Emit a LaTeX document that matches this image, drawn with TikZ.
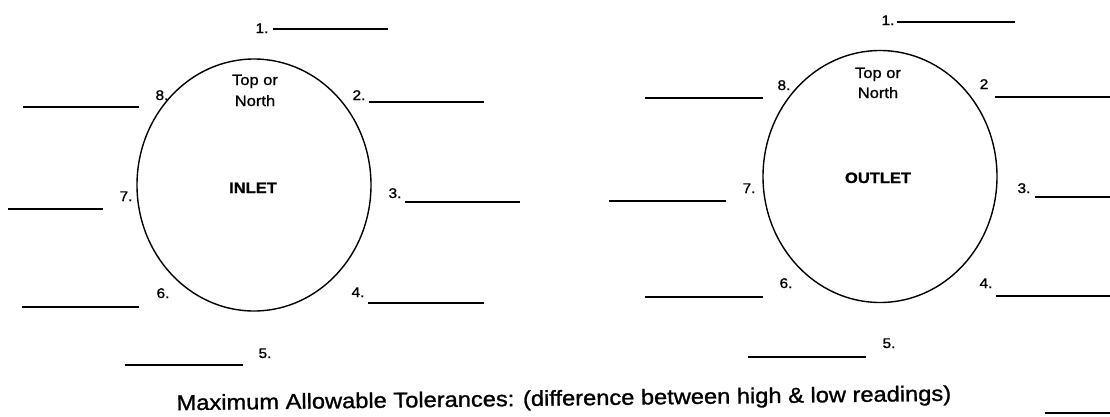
\documentclass[tikz,border=0pt]{standalone}
\usepackage{fontspec}
\setmainfont{Liberation Sans}[FakeStretch=1.1, FakeBold=1.2]
\usetikzlibrary{shapes.geometric}
\begin{document}
\begin{tikzpicture}[x=1pt,y=-1pt,
  ring/.style={draw, ellipse, line width=1.4pt, inner sep=0pt, minimum width=234pt, minimum height=252pt},
  blank/.style={line width=1.4pt},
  num/.style={anchor=base, inner sep=0pt, font=\fontsize{14}{16}\selectfont},
  toplbl/.style={anchor=base, inner sep=0pt, font=\fontsize{15}{17}\selectfont},
  title/.style={anchor=base, inner sep=0pt, font=\fontsize{15}{17}\selectfont\bfseries},
  footer/.style={anchor=base, inner sep=0pt, font=\fontsize{21.5}{24}\selectfont}]
\useasboundingbox (0,0) rectangle (1110,416);
% ---------- INLET ----------
\node[ring] (inring) at (254,185) {};
\node[toplbl] (intop) at (255,85) {Top or};
\node[toplbl] (innorth) at (255,106) {North};
\node[title] (inname) at (253,193) {INLET};
\node[num] (in1) at (262,33) {1.};
\node[num] (in2) at (359,100) {2.};
\node[num] (in3) at (395,198) {3.};
\node[num] (in4) at (358,297) {4.};
\node[num] (in5) at (265,358) {5.};
\node[num] (in6) at (163,298) {6.};
\node[num] (in7) at (126,201) {7.};
\node[num] (in8) at (162,100) {8.};
\draw[blank] (273,29) -- (388,29);
\draw[blank] (369,102) -- (484,102);
\draw[blank] (405,202) -- (520,202);
\draw[blank] (368,303) -- (484,303);
\draw[blank] (125,365) -- (243,365);
\draw[blank] (22,307) -- (139,307);
\draw[blank] (8,209) -- (103,209);
\draw[blank] (23,107) -- (139,107);
% ---------- OUTLET ----------
\node[ring] (outring) at (880,176.5) {};
\node[toplbl] (outtop) at (878,78) {Top or};
\node[toplbl] (outnorth) at (878,98) {North};
\node[title] (outname) at (878,183) {OUTLET};
\node[num] (out1) at (888,25) {1.};
\node[num] (out2) at (984,89) {2};
\node[num] (out3) at (1024,193) {3.};
\node[num] (out4) at (986,288) {4.};
\node[num] (out5) at (889,348) {5.};
\node[num] (out6) at (786,288) {6.};
\node[num] (out7) at (749,193) {7.};
\node[num] (out8) at (784,90) {8.};
\draw[blank] (897,22) -- (1015,22);
\draw[blank] (995,97) -- (1110,97);
\draw[blank] (1035,197) -- (1110,197);
\draw[blank] (996,296) -- (1110,296);
\draw[blank] (748,357) -- (866,357);
\draw[blank] (645,297) -- (763,297);
\draw[blank] (609,201) -- (726,201);
\draw[blank] (645,98) -- (763,98);
% ---------- footer ----------
\node[footer, rotate=0.7] (tol) at (564,405.5) {Maximum Allowable Tolerances: (difference between high \& low readings)};
\draw[blank] (1045,413) -- (1110,413);
\end{tikzpicture}
\end{document}
